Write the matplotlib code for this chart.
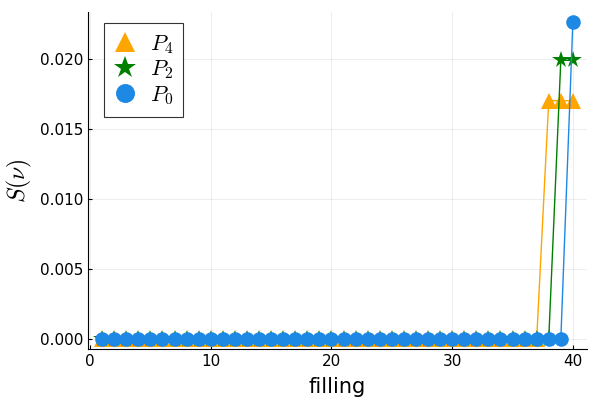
import numpy as np
import matplotlib
matplotlib.use('Agg')
import matplotlib.pyplot as plt

plt.rcParams['mathtext.fontset'] = 'cm'

# datos
filling = np.arange(1, 41)

p4 = np.zeros(40)
p4[1] = 0.00004
p4[4] = 0.00004
p4[37:40] = [0.01705, 0.01705, 0.01705]

p2 = np.zeros(40)
p2[0] = 0.00002
p2[38:40] = [0.01993, 0.01993]

p0 = np.zeros(40)
p0[39] = 0.0227

series = [
    (p4, r'$P_4$', '#FFA500', '^', 11),
    (p2, r'$P_2$', '#008000', '*', 13),
    (p0, r'$P_0$', '#1E88E5', 'o', 10.5),
]

fig = plt.figure(figsize=(6, 4), dpi=100)
ax = fig.add_axes([88/600, 51/400, 499/600, 337/400])

for vals, lab, col, mk, ms in series:
    ax.plot(filling, vals, color=col, lw=1.0, marker=mk, ms=ms,
            markeredgewidth=0, label=lab)

ax.set_xlim(-0.17, 41.17)
ax.set_ylim(-0.00068, 0.02338)
ax.set_xticks([0, 10, 20, 30, 40])
ax.set_yticks([0.0, 0.005, 0.010, 0.015, 0.020])
ax.set_yticklabels(['0.000', '0.005', '0.010', '0.015', '0.020'])
ax.tick_params(direction='in', length=3, labelsize=11, width=0.8)
ax.grid(True, color='black', alpha=0.08, lw=0.6)
ax.spines['top'].set_visible(False)
ax.spines['right'].set_visible(False)
ax.set_xlabel('filling', fontsize=15, labelpad=6)
ax.set_ylabel(r'$S(\nu)$', fontsize=17)

leg = ax.legend(loc='upper left', bbox_to_anchor=(16/499, 1 - 11/337),
                borderaxespad=0, fontsize=16,
                frameon=True, fancybox=False, edgecolor='black',
                handlelength=1.0, handletextpad=0.6, labelspacing=0.12,
                borderpad=0.45, markerscale=1.3)
leg.get_frame().set_linewidth(0.8)
for h in leg.legend_handles:
    h.set_linestyle('none')

plt.savefig('out.png', dpi=100)
